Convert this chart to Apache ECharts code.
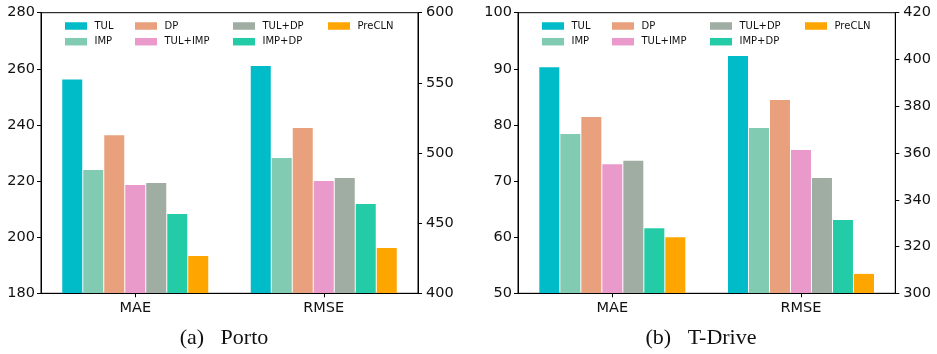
<!DOCTYPE html>
<html><head><meta charset="utf-8">
<script src="https://cdn.jsdelivr.net/npm/echarts@6/dist/echarts.min.js"></script>
<style>html,body{margin:0;padding:0;background:#fff}#c{width:937px;height:354px}</style>
</head><body><div id="c"></div>
<script>
const categories = ['MAE', 'RMSE'];
const methods = ['TUL', 'IMP', 'DP', 'TUL+IMP', 'TUL+DP', 'IMP+DP', 'PreCLN'];
const colors = ['#00BBC8', '#80CBB2', '#E9A07C', '#E99ACA', '#A0ADA2', '#23CCA6', '#FFA500'];
const portoMAE = [256.2, 223.9, 236.3, 218.6, 219.3, 208.3, 193.3];
const portoRMSE = [562.0, 496.4, 517.8, 480.0, 482.2, 463.7, 432.3];
const tdriveMAE = [90.3, 78.4, 81.4, 73.0, 73.6, 61.6, 60.0];
const tdriveRMSE = [401.5, 370.7, 382.7, 361.3, 349.3, 331.4, 308.3];
const portoLeftTicks = [180, 200, 220, 240, 260, 280];
const portoRightTicks = [400, 450, 500, 550, 600];
const tdriveLeftTicks = [50, 60, 70, 80, 90, 100];
const tdriveRightTicks = [300, 320, 340, 360, 380, 400, 420];
const captions = ['(a)   Porto', '(b)   T-Drive'];

const FONT = 'DejaVu Sans';
const panels = [
  {left: 41, width: 377, mae: portoMAE, rmse: portoRMSE, lt: portoLeftTicks, rt: portoRightTicks, cap: captions[0], capX: 224},
  {left: 518, width: 377.3, mae: tdriveMAE, rmse: tdriveRMSE, lt: tdriveLeftTicks, rt: tdriveRightTicks, cap: captions[1], capX: 701}
];
const gridTop = 12.7, gridH = 280.6;

const grid = [], xAxis = [], yAxis = [], series = [], legend = [], graphic = [];
function yax(p, gi, ticks, pos, margin) {
  return {
    type: 'value', gridIndex: gi, position: pos,
    min: ticks[0], max: ticks[ticks.length - 1], interval: ticks[1] - ticks[0],
    splitLine: {show: false}, z: 3,
    axisLine: {show: true, lineStyle: {color: '#000', width: 1}},
    axisTick: {show: true, length: 4, lineStyle: {color: '#000'}},
    axisLabel: {color: '#111', fontFamily: FONT, fontSize: 14.5, margin: margin}
  };
}
panels.forEach((p, pi) => {
  grid.push({left: p.left, top: gridTop, width: p.width, height: gridH, show: true,
    borderColor: '#000', borderWidth: 1, backgroundColor: 'transparent'});
  xAxis.push({type: 'category', gridIndex: pi, data: categories, z: 3,
    axisLine: {show: true, lineStyle: {color: '#000'}},
    axisTick: {show: true, alignWithLabel: true, length: 4, lineStyle: {color: '#000'}},
    axisLabel: {color: '#111', fontFamily: FONT, fontSize: 14.5, margin: 7}});
  xAxis.push({type: 'category', gridIndex: pi, data: categories, show: false});
  yAxis.push(yax(p, pi, p.lt, 'left', 6));
  yAxis.push(yax(p, pi, p.rt, 'right', 8));
  methods.forEach((m, i) => {
    series.push({type: 'bar', name: m, xAxisIndex: pi * 2, yAxisIndex: pi * 2,
      data: [p.mae[i], '-'], barWidth: 20, barGap: '5%', itemStyle: {color: colors[i]}});
    series.push({type: 'bar', name: m, xAxisIndex: pi * 2 + 1, yAxisIndex: pi * 2 + 1,
      data: ['-', p.rmse[i]], barWidth: 20, barGap: '5%', itemStyle: {color: colors[i]}});
  });
  const colX = [24, 94, 192, 287];
  methods.forEach((m, i) => {
    const col = Math.floor(i / 2), row = i % 2;
    legend.push({data: [m], left: p.left + colX[col], top: row === 0 ? 20 : 35.7,
      padding: 0, itemWidth: 22, itemHeight: 7.5, icon: 'rect', selectedMode: false,
      textStyle: {fontFamily: FONT, fontSize: 10, color: '#111', lineHeight: 12, padding: [0, 0, 0, 2.5]}});
  });
  graphic.push({type: 'text', x: p.capX, y: 338,
    style: {text: p.cap, fill: '#111', font: '22px "Liberation Serif"', textAlign: 'center', textVerticalAlign: 'middle'}});
});

const chart = echarts.init(document.getElementById('c'), null, {renderer: 'canvas'});
chart.setOption({animation: false, color: colors, grid, xAxis, yAxis, series, legend, graphic});
</script>
</body></html>
